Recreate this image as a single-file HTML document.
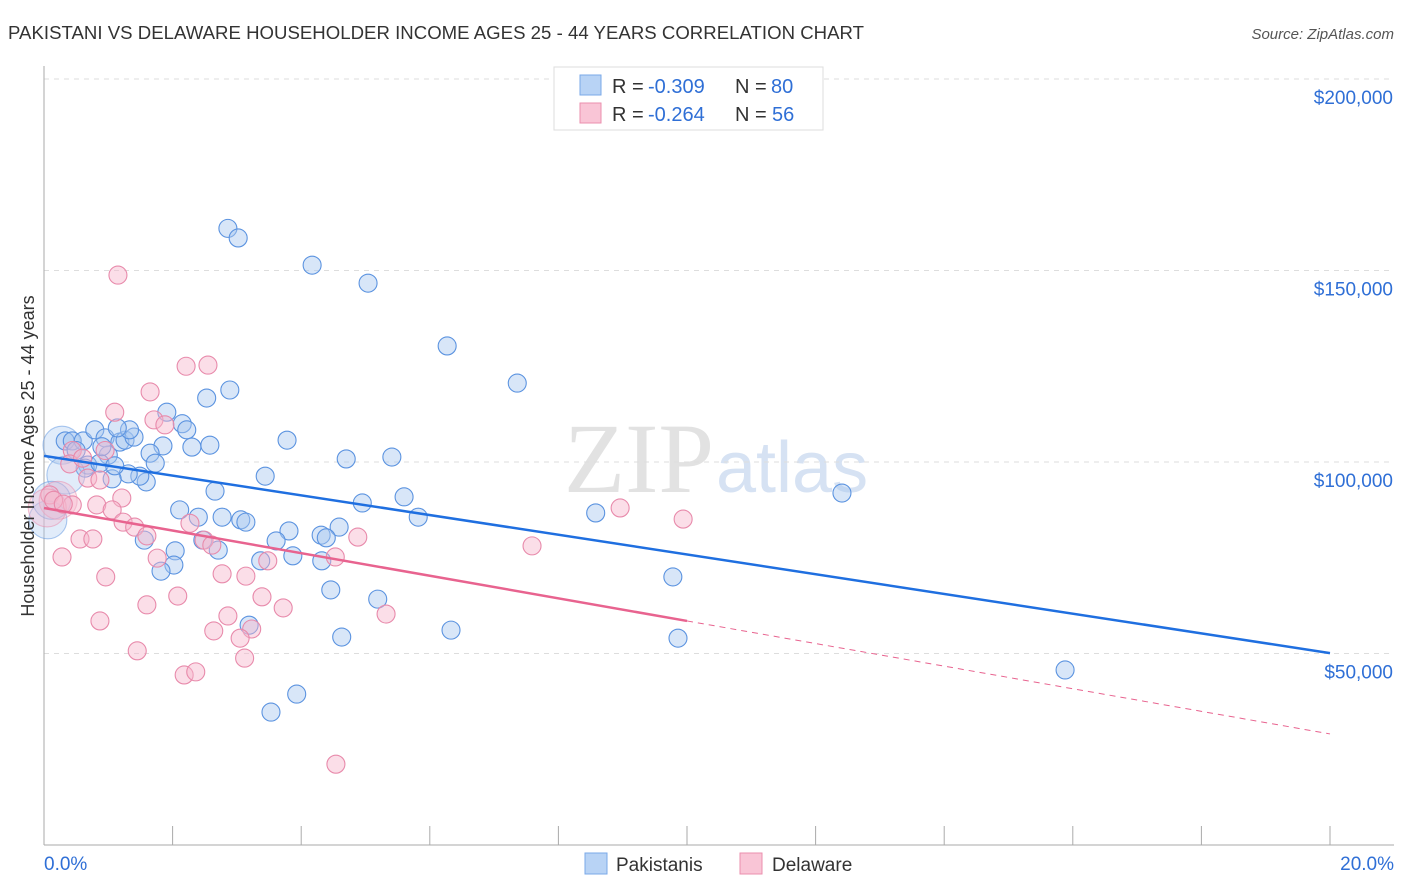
<!DOCTYPE html>
<html><head><meta charset="utf-8"><style>
body{margin:0;background:#fff;font-family:"Liberation Sans",sans-serif;}
svg{display:block}
</style></head><body>
<svg id="chart" width="1406" height="892" xmlns="http://www.w3.org/2000/svg">
<text x="8" y="39" font-size="18.6" fill="#333" textLength="856">PAKISTANI VS DELAWARE HOUSEHOLDER INCOME AGES 25 - 44 YEARS CORRELATION CHART</text>
<text x="1394" y="39" font-size="15" fill="#555" text-anchor="end" font-style="italic">Source: ZipAtlas.com</text>
<text x="714" y="492" font-size="100" fill="#e2e2e2" text-anchor="end" font-family="Liberation Serif,serif">ZIP</text>
<text x="716" y="492" font-size="72" fill="#d6e2f3">atlas</text>
<g id="grid"></g><g id="axes"></g><g id="marks"></g><g id="lines"></g>
<text transform="translate(34,456) rotate(-90)" font-size="18" fill="#333" text-anchor="middle">Householder Income Ages 25 - 44 years</text>
<g>
<rect x="554" y="67" width="269" height="63" fill="#fff" stroke="#ddd"/>
<rect x="580" y="75" width="21" height="20" fill="#b8d3f5" stroke="#7aa8e8"/>
<rect x="580" y="103" width="21" height="20" fill="#f9c5d6" stroke="#eb8fae"/>
<text x="612" y="93" font-size="20" fill="#333">R =</text>
<text x="648" y="93" font-size="20" fill="#2f6fd6">-0.309</text>
<text x="735" y="93" font-size="20" fill="#333">N =</text>
<text x="771" y="93" font-size="20" fill="#2f6fd6">80</text>
<text x="612" y="121" font-size="20" fill="#333">R =</text>
<text x="648" y="121" font-size="20" fill="#2f6fd6">-0.264</text>
<text x="735" y="121" font-size="20" fill="#333">N =</text>
<text x="772" y="121" font-size="20" fill="#2f6fd6">56</text>
</g>
<g>
<rect x="585" y="853" width="22" height="21" fill="#b8d3f5" stroke="#7aa8e8"/>
<text x="616" y="871" font-size="19" fill="#333">Pakistanis</text>
<rect x="740" y="853" width="22" height="21" fill="#f9c5d6" stroke="#eb8fae"/>
<text x="772" y="871" font-size="19" fill="#333">Delaware</text>
</g>
</svg>
<script>
const yTicks=[50000,100000,150000,200000];
const yTickLabels=["$50,000","$100,000","$150,000","$200,000"];
const xTickLabels=["0.0%","20.0%"];
const blueX=[2.86,3.02,4.17,5.04,6.27,7.36,2.89,2.53,1.91,2.15,2.22,3.78,2.58,2.3,1.85,1.65,1.73,4.7,5.41,3.44,1.59,2.66,5.6,4.95,2.11,5.82,2.4,2.77,3.06,3.14,8.58,12.41,3.81,4.59,4.31,4.39,3.61,2.47,2.71,1.56,2.04,2.02,1.82,3.87,4.32,3.37,9.78,4.46,5.19,3.19,6.33,4.63,9.86,15.88,3.93,3.53,0.28,0.33,0.44,0.61,0.79,0.95,1.0,0.68,1.18,1.26,1.4,1.33,1.14,1.49,1.31,1.06,0.64,0.87,0.34,0.06,0.12,0.5,0.9,1.1];
const blueY=[161,158.5,151.4,146.7,130.3,120.6,118.8,116.7,113,110,108.4,105.7,104.4,103.9,104.2,102.3,99.7,100.8,101.3,96.3,94.8,92.4,90.9,89.3,87.5,85.6,85.6,85.6,84.9,84.3,86.7,91.9,82,83,80.9,80.2,79.4,79.6,77,79.6,76.8,73.1,71.5,75.5,74.2,74.2,70,66.6,64.2,57.4,56.1,54.3,54,45.7,39.4,34.7,104.4,105.5,105.5,105.5,108.4,106.3,101.8,99.2,105.2,105.7,106.5,108.4,108.9,96.3,96.9,95.6,98.4,99.7,96.6,84.9,90,103,104,99];
const blueBig=[56,74,75,76];
const pinkX=[1.15,2.21,2.55,1.65,1.71,1.88,1.1,0.95,0.44,0.40,0.68,0.87,1.21,0.22,0.09,0.44,0.82,1.06,1.23,1.41,2.27,1.6,0.56,0.76,2.49,2.61,4.88,7.59,8.96,9.94,0.28,1.76,3.48,4.53,0.96,2.77,3.14,2.08,3.39,1.6,3.72,5.32,0.87,2.86,2.64,3.23,3.05,1.45,3.12,2.18,2.36,4.54,0.05,0.15,0.3,0.6];
const pinkY=[148.8,125,125.3,118.3,111,109.7,113,103,103,99.5,95.8,95.3,90.6,90,91.4,88.8,88.8,87.5,84.3,83,84,80.7,79.9,79.9,79.6,78.3,80.4,78.1,88,85.1,75.2,74.9,74.2,75.2,70,70.8,70.2,65,64.8,62.7,61.9,60.3,58.5,59.8,55.9,56.4,54,50.7,48.8,44.4,45.2,21.1,88,90,89,101];
const pinkBig=[13,52];
const blueTrend=[101.6,50.1];
const pinkTrend=[88,29];
const pinkSolidEnd=10;

const NS="http://www.w3.org/2000/svg";
const X0=44,X1=1330;
const sx=p=>X0+p/20*(X1-X0);
const sy=v=>462-(v-100000)/50000*191.5;
function mk(tag,attrs,parent){const e=document.createElementNS(NS,tag);for(const k in attrs)e.setAttribute(k,attrs[k]);document.getElementById(parent).appendChild(e);return e;}
let g=mk('line',{x1:X0,x2:1394,y1:79,y2:79,stroke:'#ddd','stroke-dasharray':'5,5'},'grid');


yTicks.forEach((v,i)=>{
 const l=mk('line',{x1:X0,x2:1394,y1:sy(v),y2:sy(v),stroke:'#ddd','stroke-dasharray':'5,5'},'grid');
 
 
 const t=mk('text',{x:1393,y:sy(v)+25,'font-size':19,fill:'#2f6fd6','text-anchor':'end'},'axes');
 t.textContent=yTickLabels[i];
 
 
});
let a=mk('line',{x1:X0,x2:X0,y1:66,y2:845,stroke:'#aaa'},'axes');


a=mk('line',{x1:X0,x2:1394,y1:845,y2:845,stroke:'#aaa'},'axes');


for(let i=0;i<=10;i++){
 const tk=mk('line',{x1:sx(i*2),x2:sx(i*2),y1:826,y2:845,stroke:'#aaa'},'axes');
 
 
}
xTickLabels.forEach((s,i)=>{
 const t=mk('text',{x:i?1394:44,y:870,'font-size':19,fill:'#2f6fd6','text-anchor':i?'end':'start'},'axes');
 t.textContent=s;
 
 
});
function dots(xs,ys,big,fill,stroke,name){
 xs.forEach((x,i)=>{
  const b=big.includes(i);
  const c=mk('circle',{cx:sx(x),cy:sy(ys[i]*1000),r:b?19:9,fill:fill,'fill-opacity':b?0.35:0.45,stroke:stroke,'stroke-width':1.1,'stroke-opacity':b?0.5:1},'marks');
  
  
 });
}
dots(blueX,blueY,blueBig,'#a9c8f0','#5b93e0','pakistani-point');
dots(pinkX,pinkY,pinkBig,'#f6b6cb','#e88aab','delaware-point');
let ln=mk('line',{x1:sx(0),y1:sy(blueTrend[0]*1000),x2:sx(20),y2:sy(blueTrend[1]*1000),stroke:'#1f6fe0','stroke-width':2.5},'lines');


const pv=x=>pinkTrend[0]+(pinkTrend[1]-pinkTrend[0])*x/20;
ln=mk('line',{x1:sx(0),y1:sy(pv(0)*1000),x2:sx(pinkSolidEnd),y2:sy(pv(pinkSolidEnd)*1000),stroke:'#e8638f','stroke-width':2.5},'lines');


ln=mk('line',{x1:sx(pinkSolidEnd),y1:sy(pv(pinkSolidEnd)*1000),x2:sx(20),y2:sy(pv(20)*1000),stroke:'#e8638f','stroke-width':1,'stroke-dasharray':'6,5'},'lines');


</script>
</body></html>
